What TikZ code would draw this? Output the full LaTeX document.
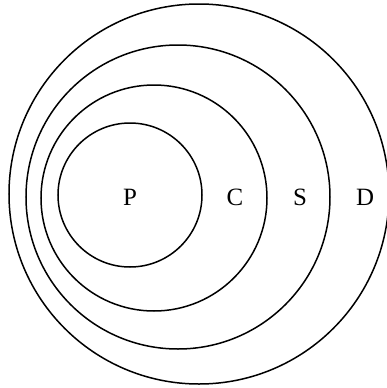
\documentclass[tikz,border=0pt]{standalone}
\usepackage{fontspec}
\setmainfont{Liberation Serif}
\usepackage{tikz}
\usetikzlibrary{positioning}
\tikzset{
  ring/.style={circle,draw,line width=1.5bp,inner sep=0pt},
  setlabel/.style={font=\fontsize{25}{25}\selectfont,inner sep=0pt},
}

\begin{document}
\begin{tikzpicture}[x=1bp,y=-1bp]
  \useasboundingbox (0,0) rectangle (387,388);
  \node[ring,minimum size=380bp] (D) at (199,194) {};
  \node[ring,minimum size=304bp] (S) at (178,197) {};
  \node[ring,minimum size=226bp] (C) at (154,198) {};
  \node[ring,minimum size=144bp] (P) at (130,195) {};
  \node[setlabel] (labP) at (130,197) {P};
  \node[setlabel] (labC) at (235,197) {C};
  \node[setlabel] (labS) at (300,197) {S};
  \node[setlabel] (labD) at (365,197) {D};
\end{tikzpicture}
\end{document}
